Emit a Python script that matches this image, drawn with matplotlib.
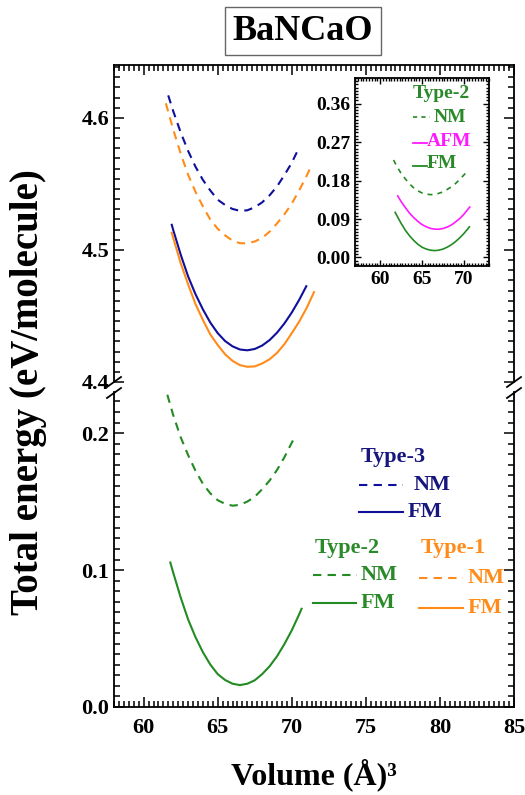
import matplotlib
matplotlib.use('Agg')
import matplotlib.pyplot as plt
from matplotlib.ticker import MultipleLocator, AutoMinorLocator, FormatStrFormatter
from matplotlib.lines import Line2D

plt.rcParams['font.family'] = ['Liberation Serif', 'DejaVu Serif']
plt.rcParams['font.weight'] = 'bold'

# ---------------- data ----------------
V_t3_nm = [61.66, 62, 62.5, 63, 63.5, 64, 64.5, 65, 65.5, 66, 66.5, 67, 67.5, 68, 68.5, 69, 69.5, 70, 70.41]
E_t3_nm = [4.617, 4.605, 4.589, 4.575, 4.563, 4.553, 4.545, 4.538, 4.534, 4.531, 4.5296, 4.530, 4.5323,
           4.536, 4.5413, 4.548, 4.5566, 4.566, 4.5755]

V_t1_nm = [61.5, 62, 62.5, 63, 63.5, 64, 64.5, 65, 65.5, 66, 66.5, 67, 67.5, 68, 68.5, 69, 69.5, 70, 70.5, 71, 71.25]
E_t1_nm = [4.611, 4.591, 4.573, 4.557, 4.544, 4.533, 4.523, 4.516, 4.511, 4.507, 4.5051, 4.505, 4.5064,
           4.509, 4.5138, 4.520, 4.5269, 4.535, 4.5451, 4.556, 4.562]

V_t3_fm = [61.9, 62, 62.5, 63, 63.5, 64, 64.5, 65, 65.5, 66, 66.5, 67, 67.5, 68, 68.5, 69, 69.5, 70, 70.5, 70.98]
E_t3_fm = [4.519, 4.515, 4.4965, 4.480, 4.4665, 4.455, 4.445, 4.437, 4.431, 4.427, 4.4246, 4.424, 4.425,
           4.4276, 4.4317, 4.4373, 4.4443, 4.4526, 4.4622, 4.4725]

V_t1_fm = [61.9, 62, 62.5, 63, 63.5, 64, 64.5, 65, 65.5, 66, 66.5, 67, 67.5, 68, 68.5, 69, 69.5, 70, 70.5, 71, 71.5]
E_t1_fm = [4.513, 4.509, 4.490, 4.474, 4.459, 4.447, 4.436, 4.428, 4.421, 4.416, 4.4128, 4.4115, 4.4118,
           4.414, 4.4172, 4.422, 4.4286, 4.437, 4.4457, 4.456, 4.468]

V_t2_nm = [61.6, 62, 62.5, 63, 63.5, 64, 64.5, 65, 65.5, 66, 66.5, 67, 67.5, 68, 68.5, 69, 69.5, 70, 70.2]
E_t2_nm = [0.228, 0.213, 0.197, 0.184, 0.1725, 0.163, 0.156, 0.151, 0.1483, 0.147, 0.1476, 0.150, 0.1535,
           0.159, 0.1653, 0.173, 0.1823, 0.193, 0.197]

V_t2_fm = [61.8, 62, 62.5, 63, 63.5, 64, 64.5, 65, 65.5, 66, 66.5, 67, 67.5, 68, 68.5, 69, 69.5, 70, 70.5, 70.66]
E_t2_fm = [0.1055, 0.098, 0.080, 0.064, 0.051, 0.040, 0.031, 0.024, 0.0197, 0.017, 0.016, 0.017, 0.0195,
           0.024, 0.0297, 0.037, 0.0459, 0.056, 0.0677, 0.0717]

V_t2_afm = [62.1, 62.5, 63, 63.5, 64, 64.5, 65, 65.5, 66, 66.5, 67, 67.5, 68, 68.5, 69, 69.5, 70, 70.7]
E_t2_afm = [0.144, 0.131, 0.117, 0.104, 0.0935, 0.0845, 0.077, 0.0719, 0.068, 0.0663, 0.066, 0.0677,
            0.071, 0.076, 0.083, 0.091, 0.101, 0.118]

main_xticks = [60, 65, 70, 75, 80, 85]
top_yticks = [4.4, 4.5, 4.6]
bot_yticks = [0.0, 0.1, 0.2]
inset_xticks = [60, 65, 70]
inset_yticks = [0.00, 0.09, 0.18, 0.27, 0.36]

BLUE = '#0f0f9c'
BLUE_T = '#16167e'
ORANGE = '#ff8c1a'
GREEN = '#228b22'
GREEN_T = '#2a8a2a'
MAGENTA = '#ff1aff'

W, H = 525, 795
fig = plt.figure(figsize=(W / 100, H / 100), dpi=100)

def fx(px):
    return px / W

def fy(py):
    return 1 - py / H

L, R = 114, 514
ax_top = fig.add_axes([fx(L), fy(382), fx(R) - fx(L), fy(65) - fy(382)])
ax_bot = fig.add_axes([fx(L), fy(707), fx(R) - fx(L), fy(392) - fy(707)])

dash = (0, (4, 3))
lw = 1.5
ax_top.plot(V_t3_nm, E_t3_nm, color=BLUE, lw=lw, ls=dash)
ax_top.plot(V_t1_nm, E_t1_nm, color=ORANGE, lw=lw, ls=dash)
ax_top.plot(V_t3_fm, E_t3_fm, color=BLUE, lw=lw)
ax_top.plot(V_t1_fm, E_t1_fm, color=ORANGE, lw=lw)
ax_bot.plot(V_t2_nm, E_t2_nm, color=GREEN, lw=lw, ls=dash)
ax_bot.plot(V_t2_fm, E_t2_fm, color=GREEN, lw=lw)

for ax in (ax_top, ax_bot):
    ax.set_xlim(58, 85)
    ax.xaxis.set_major_locator(MultipleLocator(5))
    ax.xaxis.set_minor_locator(AutoMinorLocator(15))
    for s in ax.spines.values():
        s.set_linewidth(1.3)
    ax.tick_params(which='both', direction='in', width=1.1, labelsize=16)
    ax.tick_params(which='major', length=7)
    ax.tick_params(which='minor', length=4)

ax_top.set_ylim(4.4, 4.64)
ax_top.set_yticks(top_yticks)
ax_top.yaxis.set_major_formatter(FormatStrFormatter('%.1f'))
ax_top.yaxis.set_minor_locator(AutoMinorLocator(13))
ax_top.spines['bottom'].set_visible(False)
ax_top.tick_params(which='both', top=True, bottom=False, labelbottom=False, right=True, left=True)

ax_bot.set_ylim(0, 0.23)
ax_bot.set_yticks(bot_yticks)
ax_bot.yaxis.set_major_formatter(FormatStrFormatter('%.1f'))
ax_bot.yaxis.set_minor_locator(AutoMinorLocator(13))
ax_bot.spines['top'].set_visible(False)
ax_bot.set_xticks(main_xticks)
ax_bot.tick_params(which='both', top=False, bottom=True, right=True, left=True)
ax_bot.tick_params(axis='x', pad=8)

# break marks
for xb in (L, R):
    for yb in (382, 393):
        fig.add_artist(Line2D([fx(xb - 7), fx(xb + 7)], [fy(yb + 5), fy(yb - 5)],
                              color='black', lw=1.3, transform=fig.transFigure))

# inset
ax_in = fig.add_axes([fx(355), fy(266), fx(489) - fx(355), fy(78) - fy(266)])
ax_in.plot(V_t2_nm, E_t2_nm, color=GREEN, lw=1.2, ls=(0, (3, 3)))
ax_in.plot(V_t2_afm, E_t2_afm, color=MAGENTA, lw=1.2)
ax_in.plot(V_t2_fm, E_t2_fm, color=GREEN, lw=1.2)
ax_in.set_xlim(57, 73)
ax_in.set_ylim(-0.02, 0.42)
ax_in.set_xticks(inset_xticks)
ax_in.set_yticks(inset_yticks)
ax_in.yaxis.set_major_formatter(FormatStrFormatter('%.2f'))
ax_in.xaxis.set_minor_locator(AutoMinorLocator(15))
ax_in.yaxis.set_minor_locator(AutoMinorLocator(12))
for s in ax_in.spines.values():
    s.set_linewidth(1.3)
ax_in.tick_params(which='both', direction='in', top=True, right=True, width=1.0, labelsize=14)
ax_in.tick_params(which='major', length=4)
ax_in.tick_params(which='minor', length=2)

# inset legend
ax_txt = dict(transform=fig.transFigure, fontweight='bold')
fs_in = 14
fig.text(fx(441), fy(93), 'Type-2', color=GREEN_T, fontsize=fs_in, ha='center', va='center', **ax_txt)
fig.add_artist(Line2D([fx(413), fx(430)], [fy(117), fy(117)], color=GREEN, lw=1.2, ls=(0, (2.5, 2.5)), transform=fig.transFigure))
fig.text(fx(434), fy(117), 'NM', color=GREEN_T, fontsize=fs_in, ha='left', va='center', **ax_txt)
fig.add_artist(Line2D([fx(413), fx(427)], [fy(143), fy(143)], color=MAGENTA, lw=1.3, transform=fig.transFigure))
fig.text(fx(427), fy(141), 'AFM', color=MAGENTA, fontsize=fs_in, ha='left', va='center', **ax_txt)
fig.add_artist(Line2D([fx(413), fx(427)], [fy(166), fy(166)], color=GREEN, lw=1.3, transform=fig.transFigure))
fig.text(fx(427), fy(164), 'FM', color=GREEN_T, fontsize=fs_in, ha='left', va='center', **ax_txt)

# main legends
fs = 16
fig.text(fx(393), fy(457), 'Type-3', color=BLUE_T, fontsize=fs, ha='center', va='center', **ax_txt)
fig.add_artist(Line2D([fx(359), fx(403)], [fy(485), fy(485)], color=BLUE, lw=lw, ls=dash, transform=fig.transFigure))
fig.text(fx(414), fy(485), 'NM', color=BLUE_T, fontsize=fs, ha='left', va='center', **ax_txt)
fig.add_artist(Line2D([fx(359), fx(403)], [fy(512), fy(512)], color=BLUE, lw=lw, transform=fig.transFigure))
fig.text(fx(408), fy(512), 'FM', color=BLUE_T, fontsize=fs, ha='left', va='center', **ax_txt)

fig.text(fx(347), fy(548), 'Type-2', color=GREEN_T, fontsize=fs, ha='center', va='center', **ax_txt)
fig.add_artist(Line2D([fx(313), fx(357)], [fy(575), fy(575)], color=GREEN, lw=lw, ls=dash, transform=fig.transFigure))
fig.text(fx(361), fy(575), 'NM', color=GREEN_T, fontsize=fs, ha='left', va='center', **ax_txt)
fig.add_artist(Line2D([fx(313), fx(356)], [fy(603), fy(603)], color=GREEN, lw=lw, transform=fig.transFigure))
fig.text(fx(361), fy(603), 'FM', color=GREEN_T, fontsize=fs, ha='left', va='center', **ax_txt)

fig.text(fx(453), fy(548), 'Type-1', color=ORANGE, fontsize=fs, ha='center', va='center', **ax_txt)
fig.add_artist(Line2D([fx(419), fx(463)], [fy(578), fy(578)], color=ORANGE, lw=lw, ls=dash, transform=fig.transFigure))
fig.text(fx(468), fy(578), 'NM', color=ORANGE, fontsize=fs, ha='left', va='center', **ax_txt)
fig.add_artist(Line2D([fx(419), fx(463)], [fy(608), fy(608)], color=ORANGE, lw=lw, transform=fig.transFigure))
fig.text(fx(468), fy(608), 'FM', color=ORANGE, fontsize=fs, ha='left', va='center', **ax_txt)

# title & axis labels
fig.text(fx(303), fy(31), 'BaNCaO', fontsize=26, ha='center', va='center', fontweight='bold',
         bbox=dict(boxstyle='square,pad=0.22', facecolor='white', edgecolor='#666666', lw=1.0))
fig.text(fx(29), fy(392), 'Total energy (eV/molecule)', fontsize=28, rotation=90,
         ha='center', va='center', fontweight='bold')
fig.text(fx(314), fy(775), 'Volume (Å)\u00b3', fontsize=23, ha='center', va='center', fontweight='bold')

fig.savefig('out.png', dpi=100, facecolor='white')
